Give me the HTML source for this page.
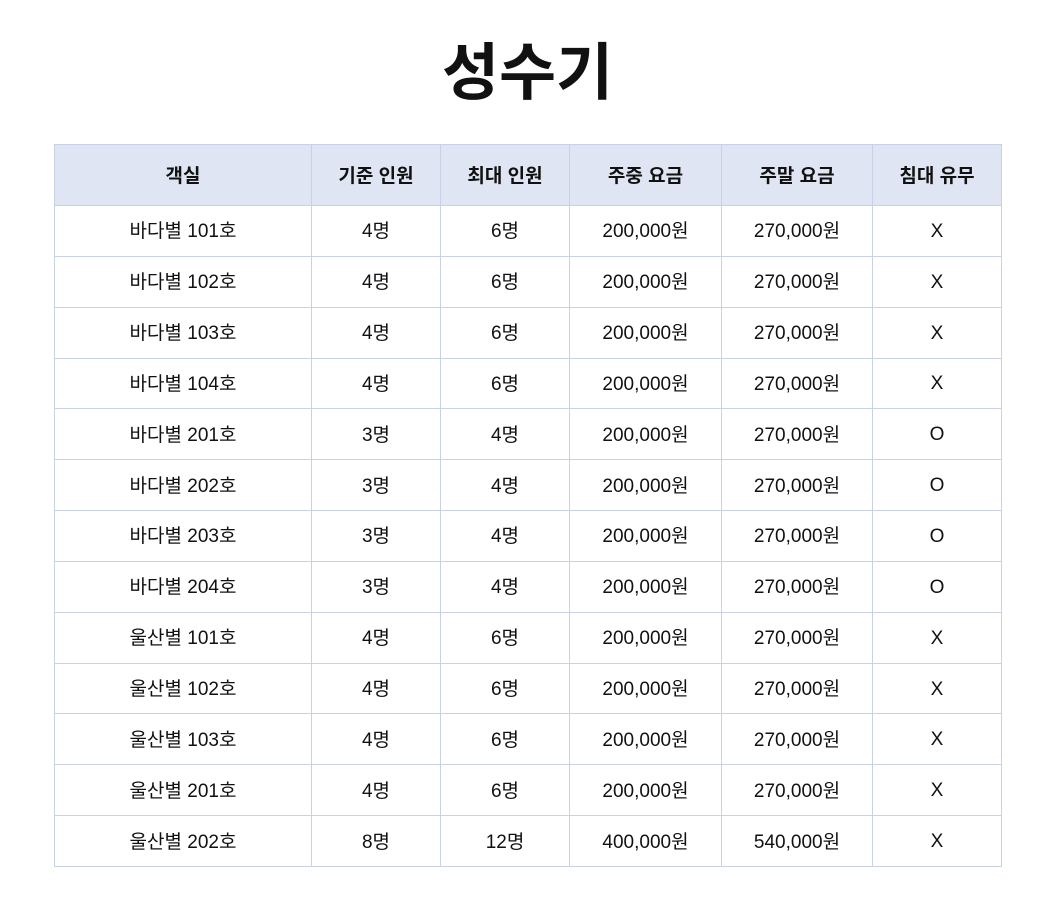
<!DOCTYPE html>
<html><head><meta charset="utf-8"><style>
body{margin:0;background:#fff;width:1055px;height:918px;font-family:"Liberation Sans","Noto Sans CJK KR",sans-serif;color:#111}
h1{position:absolute;left:0;width:1055px;top:34px;margin:0;text-align:center;font-size:62px;font-weight:bold;line-height:80px}
table{position:absolute;left:54px;top:144px;border-collapse:collapse;table-layout:fixed;width:947px}
td,th{border:1px solid #c8d1e6;text-align:center;font-size:19px;height:49.85px;padding:0 0 2px 0;box-sizing:border-box}
td{height:50.85px}
th{background:#dfe5f3;height:61px;font-weight:bold}
td:last-child{padding-top:4px}
</style></head><body>
<h1>성수기</h1>
<table>
<colgroup><col style="width:257px"><col style="width:129px"><col style="width:129px"><col style="width:152px"><col style="width:151px"><col style="width:129px"></colgroup>
<tr><th>객실</th><th>기준 인원</th><th>최대 인원</th><th>주중 요금</th><th>주말 요금</th><th>침대 유무</th></tr>
<tr><td>바다별 101호</td><td>4명</td><td>6명</td><td>200,000원</td><td>270,000원</td><td>X</td></tr>
<tr><td>바다별 102호</td><td>4명</td><td>6명</td><td>200,000원</td><td>270,000원</td><td>X</td></tr>
<tr><td>바다별 103호</td><td>4명</td><td>6명</td><td>200,000원</td><td>270,000원</td><td>X</td></tr>
<tr><td>바다별 104호</td><td>4명</td><td>6명</td><td>200,000원</td><td>270,000원</td><td>X</td></tr>
<tr><td>바다별 201호</td><td>3명</td><td>4명</td><td>200,000원</td><td>270,000원</td><td>O</td></tr>
<tr><td>바다별 202호</td><td>3명</td><td>4명</td><td>200,000원</td><td>270,000원</td><td>O</td></tr>
<tr><td>바다별 203호</td><td>3명</td><td>4명</td><td>200,000원</td><td>270,000원</td><td>O</td></tr>
<tr><td>바다별 204호</td><td>3명</td><td>4명</td><td>200,000원</td><td>270,000원</td><td>O</td></tr>
<tr><td>울산별 101호</td><td>4명</td><td>6명</td><td>200,000원</td><td>270,000원</td><td>X</td></tr>
<tr><td>울산별 102호</td><td>4명</td><td>6명</td><td>200,000원</td><td>270,000원</td><td>X</td></tr>
<tr><td>울산별 103호</td><td>4명</td><td>6명</td><td>200,000원</td><td>270,000원</td><td>X</td></tr>
<tr><td>울산별 201호</td><td>4명</td><td>6명</td><td>200,000원</td><td>270,000원</td><td>X</td></tr>
<tr><td>울산별 202호</td><td>8명</td><td>12명</td><td>400,000원</td><td>540,000원</td><td>X</td></tr>
</table>
</body></html>
